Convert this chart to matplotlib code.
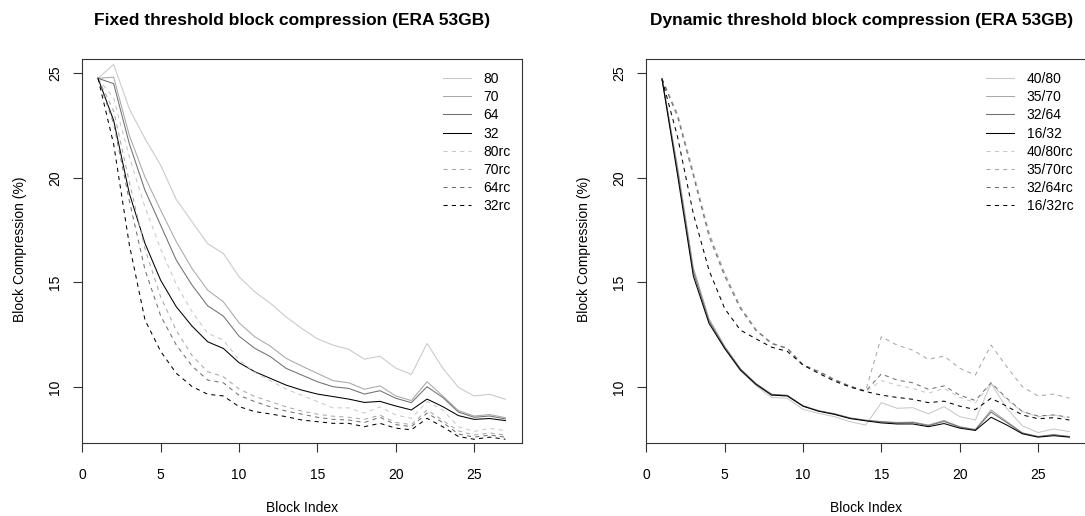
import matplotlib
matplotlib.use("Agg")
import matplotlib.pyplot as plt

plt.rcParams['font.family'] = ['Liberation Sans', 'DejaVu Sans']

block_index = list(range(1, 28))

# ---- Fixed threshold panel ----
fixed_labels = ["80", "70", "64", "32", "80rc", "70rc", "64rc", "32rc"]
fixed_80 = [24.76, 25.42, 23.3, 21.87, 20.6, 18.96, 17.9, 16.85, 16.38, 15.27, 14.55, 14.0, 13.35, 12.8,
            12.3, 12.0, 11.8, 11.33, 11.47, 10.9, 10.6, 12.08, 10.9, 9.98, 9.57, 9.65, 9.41]
fixed_70 = [24.76, 24.81, 22.03, 20.03, 18.45, 16.94, 15.66, 14.63, 14.07, 13.07, 12.4, 11.95, 11.37, 11.0,
            10.65, 10.3, 10.2, 9.89, 10.05, 9.57, 9.35, 10.25, 9.57, 8.87, 8.61, 8.68, 8.53]
fixed_64 = [24.76, 24.5, 21.63, 19.4, 17.73, 16.06, 14.87, 13.88, 13.39, 12.43, 11.85, 11.45, 10.89, 10.57,
            10.25, 10.01, 9.93, 9.66, 9.82, 9.46, 9.25, 10.01, 9.5, 8.8, 8.55, 8.61, 8.47]
fixed_32 = [24.76, 22.74, 19.25, 16.86, 15.1, 13.83, 12.91, 12.16, 11.84, 11.16, 10.73, 10.41, 10.09, 9.85,
            9.66, 9.54, 9.42, 9.26, 9.31, 9.09, 8.9, 9.42, 9.06, 8.63, 8.45, 8.49, 8.39]
fixed_80rc = [24.76, 23.8, 21.0, 18.6, 16.6, 14.9, 13.6, 12.56, 12.24, 11.3, 10.7, 10.3, 9.9, 9.6,
              9.3, 9.0, 9.0, 8.75, 9.05, 8.66, 8.5, 9.3, 8.9, 8.1, 7.87, 8.02, 7.91]
fixed_70rc = [24.76, 23.2, 19.8, 16.6, 14.3, 12.7, 11.5, 10.73, 10.49, 9.9, 9.55, 9.3, 9.05, 8.85,
              8.7, 8.6, 8.55, 8.45, 8.65, 8.3, 8.2, 8.9, 8.4, 7.9, 7.7, 7.8, 7.7]
fixed_64rc = [24.76, 22.6, 18.9, 15.6, 13.4, 12.0, 11.0, 10.33, 10.2, 9.6, 9.3, 9.05, 8.85, 8.7,
              8.55, 8.45, 8.42, 8.3, 8.55, 8.2, 8.1, 8.75, 8.3, 7.75, 7.6, 7.7, 7.6]
fixed_32rc = [24.76, 21.6, 16.8, 13.2, 11.7, 10.65, 10.02, 9.65, 9.57, 9.06, 8.82, 8.71, 8.58, 8.42,
              8.34, 8.26, 8.26, 8.1, 8.26, 8.03, 7.95, 8.5, 8.1, 7.63, 7.5, 7.6, 7.5]

# ---- Dynamic threshold panel ----
dyn_labels = ["40/80", "35/70", "32/64", "16/32", "40/80rc", "35/70rc", "32/64rc", "16/32rc"]
dyn_40_80 = [24.73, 20.4, 15.6, 13.2, 11.85, 10.78, 10.06, 9.5, 9.46, 8.93, 8.74, 8.58, 8.34, 8.18,
             9.25, 8.98, 9.01, 8.71, 9.06, 8.58, 8.42, 10.17, 8.98, 8.14, 7.82, 7.99, 7.87]
dyn_35_70 = [24.73, 20.5, 15.7, 13.25, 11.95, 10.88, 10.14, 9.6, 9.58, 9.08, 8.85, 8.7, 8.5, 8.4,
             8.35, 8.3, 8.32, 8.18, 8.4, 8.1, 7.97, 8.9, 8.35, 7.8, 7.62, 7.7, 7.62]
dyn_32_64 = [24.73, 20.3, 15.5, 13.15, 11.9, 10.86, 10.16, 9.65, 9.6, 9.1, 8.86, 8.72, 8.52, 8.41,
             8.33, 8.28, 8.3, 8.15, 8.35, 8.08, 7.95, 8.8, 8.3, 7.8, 7.63, 7.72, 7.63]
dyn_16_32 = [24.73, 20.1, 15.3, 13.04, 11.84, 10.81, 10.12, 9.61, 9.57, 9.08, 8.84, 8.69, 8.49, 8.38,
             8.28, 8.23, 8.23, 8.1, 8.25, 8.03, 7.92, 8.55, 8.18, 7.76, 7.6, 7.67, 7.6]
dyn_40_80rc = [24.73, 23.05, 20.3, 17.4, 15.45, 13.8, 12.7, 12.05, 11.82, 11.03, 10.7, 10.33, 10.0, 9.78,
               10.3, 10.09, 9.93, 9.7, 9.93, 9.5, 9.25, 10.17, 9.38, 8.82, 8.58, 8.66, 8.5]
dyn_35_70rc = [24.73, 23.0, 20.2, 17.35, 15.42, 13.85, 12.75, 12.1, 11.86, 11.07, 10.75, 10.37, 10.05, 9.82,
               12.4, 12.0, 11.76, 11.32, 11.48, 10.89, 10.57, 12.0, 10.97, 10.01, 9.57, 9.66, 9.46]
dyn_32_64rc = [24.73, 22.9, 20.1, 17.2, 15.3, 13.75, 12.7, 12.08, 11.84, 11.05, 10.73, 10.35, 10.03, 9.8,
               10.62, 10.33, 10.2, 9.89, 10.05, 9.61, 9.35, 10.2, 9.46, 8.82, 8.61, 8.66, 8.55]
dyn_16_32rc = [24.73, 21.94, 18.28, 15.58, 13.75, 12.72, 12.3, 11.9, 11.7, 11.05, 10.65, 10.28, 10.0, 9.78,
               9.61, 9.5, 9.41, 9.25, 9.32, 9.08, 8.92, 9.46, 9.08, 8.66, 8.48, 8.53, 8.42]

x_ticks = [0, 5, 10, 15, 20, 25]
y_ticks = [10, 15, 20, 25]

greys = ["#c8c8c8", "#a8a8a8", "#707070", "#000000"]
styles = ["-"] * 4 + [(0, (4, 4))] * 4
colors = greys + greys

W, H = 1085, 516
fig = plt.figure(figsize=(W / 100, H / 100), dpi=100)

def px(x, y):
    return x / W, 1 - y / H

panels = [
    dict(left=81.7, title="Fixed threshold block compression (ERA 53GB)", tcx=291.7,
         series=[fixed_80, fixed_70, fixed_64, fixed_32, fixed_80rc, fixed_70rc, fixed_64rc, fixed_32rc],
         labels=fixed_labels, leg_x=443),
    dict(left=645.7, title="Dynamic threshold block compression (ERA 53GB)", tcx=861.7,
         series=[dyn_40_80, dyn_35_70, dyn_32_64, dyn_16_32, dyn_40_80rc, dyn_35_70rc, dyn_32_64rc, dyn_16_32rc],
         labels=dyn_labels, leg_x=986),
]

top, bottom, width = 59.0, 443.0, 440.0
for p in panels:
    ax = fig.add_axes([p["left"] / W, 1 - bottom / H, width / W, (bottom - top) / H])
    for s, c, ls, lab in zip(p["series"], colors, styles, p["labels"]):
        ax.plot(block_index, s, color=c, linestyle=ls, linewidth=0.75, label=lab)
    ax.set_xlim(-0.04, 28.04)
    ax.set_ylim(7.32, 25.68)
    ax.set_xticks(x_ticks)
    ax.set_yticks(y_ticks)
    ax.tick_params(axis="both", direction="out", length=6.2, width=0.8, labelsize=10, color="#333333")
    ax.tick_params(axis="x", pad=11.5)
    ax.tick_params(axis="y", pad=8)
    for lbl in ax.get_yticklabels():
        lbl.set_rotation(90)
        lbl.set_va("center")
    for sp in ax.spines.values():
        sp.set_linewidth(0.8)
        sp.set_color("#333333")
    cx = p["left"] + width / 2
    fig.text(*px(p["tcx"], 21), p["title"], ha="center", va="center", fontsize=12.5, fontweight="bold")
    fig.text(*px(cx, 508), "Block Index", ha="center", va="center", fontsize=10)
    fig.text(*px(p["left"] - 61.7, 249), "Block Compression (%)", ha="center", va="center",
             fontsize=10, rotation=90)
    ax.legend(loc="upper left", bbox_to_anchor=px(p["leg_x"], 72), bbox_transform=fig.transFigure,
              frameon=False, fontsize=10, handlelength=2.05, handletextpad=0.88, labelspacing=0.3,
              borderpad=0, borderaxespad=0)

fig.savefig("out.png", dpi=100)
